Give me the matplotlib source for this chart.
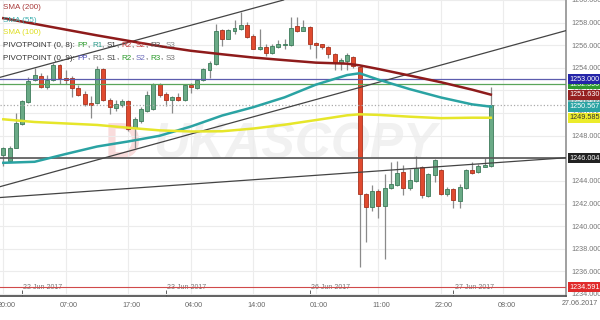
import matplotlib
matplotlib.use('Agg')
import matplotlib.pyplot as plt
import matplotlib.transforms as mtransforms
import numpy as np

plt.rcParams['font.family'] = ['Liberation Sans', 'DejaVu Sans']

# hourly candles, index 0..78
opens = [1246.31, 1245.78, 1246.92, 1249.03, 1250.97, 1252.90, 1253.25, 1252.29, 1252.90, 1254.22,
         1253.08, 1253.08, 1252.20, 1251.67, 1250.88, 1250.88, 1253.87, 1251.14, 1250.44, 1250.70,
         1251.05, 1248.68, 1249.30, 1250.18, 1250.35, 1252.55, 1251.67, 1251.14, 1251.41, 1251.14,
         1252.46, 1252.20, 1252.90, 1253.78, 1254.31, 1257.38, 1256.59, 1257.30, 1257.47, 1257.82,
         1256.86, 1255.63, 1255.80, 1255.27, 1255.80, 1255.98, 1255.98, 1257.74, 1257.30, 1257.65,
         1256.24, 1256.07, 1255.80, 1255.19, 1254.40, 1254.57, 1254.92, 1254.04, 1242.88, 1241.65,
         1243.14, 1241.82, 1243.41, 1243.67, 1244.81, 1243.41, 1244.02, 1245.25, 1242.70, 1244.55,
         1244.99, 1242.88, 1243.32, 1242.26, 1243.41, 1244.99, 1244.81, 1245.25, 1245.34]
highs = [1247.01, 1247.10, 1250.00, 1251.14, 1253.17, 1253.96, 1253.52, 1253.34, 1254.40, 1254.31,
         1253.78, 1253.25, 1252.46, 1251.93, 1251.49, 1254.13, 1253.96, 1251.32, 1251.14, 1251.23,
         1251.14, 1249.65, 1250.53, 1251.93, 1252.64, 1252.64, 1251.85, 1251.49, 1251.76, 1252.55,
         1252.64, 1252.99, 1253.96, 1254.57, 1257.91, 1257.47, 1257.47, 1258.26, 1258.97, 1258.09,
         1257.03, 1257.47, 1256.15, 1256.07, 1256.42, 1256.59, 1258.53, 1258.53, 1258.26, 1257.67,
         1256.26, 1256.15, 1255.89, 1255.27, 1254.84, 1255.27, 1255.01, 1254.13, 1242.97, 1243.67,
         1243.32, 1244.64, 1245.69, 1245.78, 1245.43, 1245.08, 1246.22, 1245.34, 1244.73, 1245.96,
         1245.08, 1243.49, 1243.41, 1243.76, 1245.08, 1245.69, 1245.52, 1246.04, 1252.29]
lows = [1245.34, 1245.69, 1246.92, 1248.95, 1250.90, 1252.81, 1252.20, 1252.11, 1252.81, 1252.55,
        1252.55, 1251.41, 1251.49, 1250.62, 1249.56, 1250.79, 1251.05, 1249.91, 1250.18, 1250.53,
        1248.42, 1246.92, 1249.12, 1250.09, 1250.26, 1251.41, 1250.62, 1250.00, 1251.05, 1251.05,
        1251.76, 1252.11, 1252.81, 1253.08, 1254.22, 1255.89, 1256.51, 1256.95, 1257.38, 1256.68,
        1255.63, 1255.60, 1255.01, 1255.19, 1255.78, 1255.71, 1255.95, 1257.21, 1257.28, 1255.71,
        1254.84, 1255.63, 1254.84, 1253.78, 1253.78, 1253.78, 1253.96, 1236.37, 1238.57, 1241.38,
        1240.68, 1237.08, 1243.32, 1243.58, 1242.79, 1243.23, 1243.93, 1242.53, 1242.62, 1243.93,
        1242.79, 1242.70, 1241.56, 1241.56, 1243.32, 1244.64, 1244.73, 1245.23, 1245.25]
closes = [1246.92, 1246.92, 1249.12, 1251.05, 1252.81, 1253.34, 1252.29, 1252.90, 1254.22, 1253.08,
          1252.90, 1252.20, 1251.58, 1250.79, 1250.70, 1253.87, 1251.14, 1250.53, 1250.79, 1251.05,
          1248.59, 1249.47, 1250.35, 1251.58, 1252.55, 1251.58, 1251.14, 1251.41, 1251.14, 1252.46,
          1252.29, 1252.90, 1253.87, 1254.40, 1257.30, 1256.59, 1257.38, 1257.56, 1257.82, 1256.77,
          1255.71, 1255.80, 1255.27, 1255.89, 1256.07, 1256.15, 1257.56, 1257.30, 1257.65, 1256.15,
          1255.98, 1255.80, 1255.19, 1254.40, 1254.66, 1255.10, 1254.13, 1242.88, 1241.65, 1243.14,
          1241.82, 1243.41, 1243.76, 1244.73, 1243.41, 1244.11, 1245.16, 1242.79, 1244.64, 1245.87,
          1242.88, 1243.32, 1242.35, 1243.49, 1244.99, 1244.73, 1245.34, 1245.43, 1250.70]

# moving averages read at sample candles
ma_idx = [0, 5, 10, 15, 20, 25, 30, 35, 40, 45, 50, 55, 57, 60, 65, 70, 75, 78]
sma200 = [1258.39, 1257.89, 1257.38, 1256.87, 1256.39, 1255.92, 1255.51, 1255.20, 1254.91, 1254.68,
          1254.46, 1254.37, 1254.22, 1253.90, 1253.32, 1252.73, 1252.07, 1251.63]
sma55 = [1245.60, 1245.69, 1246.38, 1247.04, 1247.49, 1247.99, 1248.81, 1249.78, 1250.52, 1251.39,
         1252.51, 1253.36, 1253.52, 1252.96, 1252.12, 1251.38, 1250.77, 1250.567]
sma100 = [1249.45, 1249.21, 1249.08, 1248.95, 1248.70, 1248.47, 1248.37, 1248.39, 1248.63, 1248.97,
          1249.38, 1249.80, 1249.89, 1249.84, 1249.68, 1249.55, 1249.59, 1249.585]

# trend lines: (index, price) pairs
trend_lines = [((0, 1253.24), (40, 1259.27)),
               ((0, 1243.57), (78, 1255.46)),
               ((0, 1242.55), (78, 1245.58))]

pivot9_pp = 1253.000
pivot8_pp = 1252.55
support = 1246.004
period_low = 1234.591

grid_idx = [0, 10, 20, 30, 40, 50, 60, 70, 80]
time_labels = ['20:00', '07:00', '17:00', '04:00', '14:00', '01:00', '11:00', '22:00', '08:00']
date_idx = [3, 26, 49, 72]
date_labels = ['22 Jun 2017', '23 Jun 2017', '26 Jun 2017', '27 Jun 2017']

fig = plt.figure(figsize=(6, 3.2), dpi=100)
ax = fig.add_axes([0, 0.075, 566 / 600, 0.925])
ax.set_xlim(-0.53, 90.03)
ax.set_ylim(1233.82, 1259.85)

# watermark
ax.text(0.185, 0.51, 'D', transform=ax.transAxes, fontsize=36, fontweight='bold',
        color='#f9dcdc', va='center', ha='left', zorder=0)
ax.text(0.27, 0.51, 'UKASCOPY', transform=ax.transAxes, fontsize=36, fontweight='bold',
        style='italic', color='#f1f1f1', va='center', ha='left', zorder=0)

# candles
x = np.arange(len(opens))
o = np.array(opens); c = np.array(closes)
up = c >= o
ax.vlines(x, lows, highs, color='#8a8a8a', lw=0.9, zorder=2)
ax.bar(x[up], (c - o)[up], bottom=o[up], width=0.62, color='#6aaa86', edgecolor='#3d7b5a', lw=0.6, zorder=3)
ax.bar(x[~up], (o - c)[~up], bottom=c[~up], width=0.62, color='#e04a2f', edgecolor='#a8321e', lw=0.6, zorder=3)

# levels
ax.axhline(pivot9_pp, color='#5c5cae', lw=0.9, zorder=4)
ax.axhline(pivot8_pp, color='#5aa55a', lw=0.9, zorder=4)
ax.axhline(closes[-1], color='#aaaaaa', lw=0.9, ls=':', zorder=4)
ax.axhline(support, color='#555555', lw=1.2, zorder=4)
ax.axhline(period_low, color='#d04a4a', lw=0.8, zorder=4)

for p1, p2 in trend_lines:
    ax.axline(p1, p2, color='#444444', lw=0.9, zorder=4)

ax.plot(ma_idx, sma200, color='#8e1b1b', lw=1.8, zorder=5)
ax.plot(ma_idx, sma55, color='#2aa3a3', lw=1.8, zorder=5)
ax.plot(ma_idx, sma100, color='#e6e62a', lw=1.8, zorder=5)

# axes styling
yt = np.arange(1234, 1261, 2)
ax.set_yticks(yt)
ax.set_yticklabels(['%.3f' % v for v in yt])
ax.yaxis.tick_right()
ax.tick_params(axis='y', length=0, pad=4, labelsize=5.2, labelcolor='#777777')
ax.set_xticks(grid_idx)
ax.set_xticklabels(time_labels)
ax.tick_params(axis='x', length=0, pad=4, labelsize=5.2, labelcolor='#666666')
ax.set_xticks(date_idx, minor=True)
ax.tick_params(axis='x', which='minor', direction='in', length=4, color='#444444')
for lbl in ax.get_xticklabels():
    lbl.set_transform(lbl.get_transform() + mtransforms.ScaledTranslation(3 / 100, 0, fig.dpi_scale_trans))
ax.grid(color='#ececec', lw=0.8)
ax.set_axisbelow(True)
for s in ['top', 'left']:
    ax.spines[s].set_visible(False)
ax.spines['right'].set_color('#999999')
ax.spines['right'].set_linewidth(1.3)
ax.spines['bottom'].set_color('#555555')
ax.spines['bottom'].set_linewidth(1.3)

bx = mtransforms.blended_transform_factory(ax.transData, ax.transAxes)
for i, d in zip(date_idx, date_labels):
    ax.text(i + 0.2, 0.03, d, transform=bx, fontsize=5.0, color='#777777', ha='left', va='center')

fig.text(0.967, 0.053, '27.06.2017', fontsize=5.2, color='#666666', ha='center', va='center')

# value labels on the price axis
by = mtransforms.blended_transform_factory(ax.transAxes, ax.transData)
value_tags = [(1252.55, '1252.550', '#2f9a2f', 'white'),
              (1250.90, '1250.902', '#7fb3b3', 'white'),
              (1253.000, '1253.000', '#2424a8', 'white'),
              (1251.630, '1251.630', '#962020', 'white'),
              (1250.567, '1250.567', '#2aa3a3', 'white'),
              (1249.585, '1249.585', '#ecec2a', '#333333'),
              (support, '1246.004', '#222222', 'white'),
              (period_low, '1234.591', '#e02a2a', 'white')]
for v, t, fc, tc in value_tags:
    ax.text(1.006, v, t, transform=by, fontsize=5.2, color=tc, ha='left', va='center',
            bbox=dict(boxstyle='square,pad=0.22', fc=fc, ec='none'), clip_on=False, zorder=6)

# legend text
renderer = fig.canvas.get_renderer()


def colored_line(ypx, parts):
    xf = 3 / 600
    for s, col in parts:
        t = fig.text(xf, 1 - ypx / 320, s, color=col, fontsize=5.8, ha='left', va='center')
        xf += t.get_window_extent(renderer).width / fig.bbox.width


colored_line(7.5, [('SMA (200)', '#a83a3a')])
colored_line(20.5, [('SMA (55)', '#3fb0b0')])
colored_line(33, [('SMA (100)', '#dede1e')])
sep = '#333333'
colored_line(45.5, [('PIVOTPOINT (0, 8): ', sep), ('PP', '#2a9a2a'), (', ', sep), ('R1', '#2a9a8a'),
                    (', ', sep), ('S1', '#333333'), (', ', sep), ('R2', '#c03030'), (', ', sep),
                    ('S2', '#c03030'), (', ', sep), ('R3', '#555555'), (', ', sep), ('S3', '#888888')])
colored_line(58, [('PIVOTPOINT (0, 9): ', sep), ('PP', '#4a4ab4'), (', ', sep), ('R1', '#666666'),
                  (', ', sep), ('S1', '#444444'), (', ', sep), ('R2', '#2a9a2a'), (', ', sep),
                  ('S2', '#6a6ab8'), (', ', sep), ('R3', '#2a9a2a'), (', ', sep), ('S3', '#777777')])

fig.savefig('out.png', dpi=100)
